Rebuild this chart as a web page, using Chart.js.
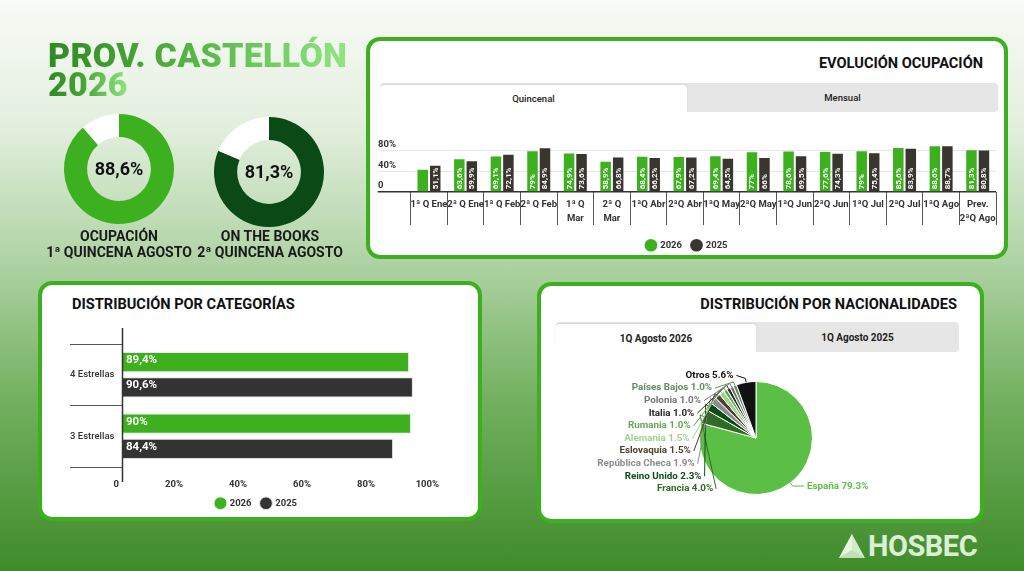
<!DOCTYPE html>
<html>
<head>
<meta charset="utf-8">
<script src="https://cdn.jsdelivr.net/npm/chart.js@4.4.1/dist/chart.umd.min.js"></script>
<style>
html,body{margin:0;padding:0;width:1024px;height:571px;overflow:hidden;}
body{position:relative;font-family:Roboto,"Open Sans",sans-serif;
 background:linear-gradient(to bottom,#f8fbf7 0%,#e3efde 22%,#b1d4a6 45%,#72b05f 70%,#3f8b2a 100%);}
.card{position:absolute;background:#fff;border:4px solid #3cb01f;border-radius:14px;box-sizing:border-box;}
.title{position:absolute;left:48px;top:41px;font-size:34px;line-height:28.5px;font-weight:900;letter-spacing:0.25px;}
.title span{display:inline-block;padding-top:8px;margin-top:-8px;background-clip:text;-webkit-background-clip:text;color:transparent;-webkit-text-fill-color:transparent;}
.l1{background:linear-gradient(to right,#2f8a22 0%,#4aa83a 35%,#6cc95b 70%,#92e582 100%);}
.l2{background:linear-gradient(to right,#2f8a22 0%,#47a637 45%,#92e582 100%);}
.dlabel{position:absolute;width:170px;text-align:center;font-size:14px;font-weight:700;line-height:16px;color:#1a1a1a;}
.ctitle{position:absolute;font-size:14.6px;font-weight:700;color:#111;line-height:16px;white-space:nowrap;}
.tabs{position:absolute;background:#e6e6e6;border-radius:4px;}
.tab{position:absolute;top:0;height:100%;display:flex;align-items:center;justify-content:center;font-size:9.5px;font-weight:500;color:#222;}
.tab.active{background:#fff;border-radius:4px 4px 0 0;top:2px;height:calc(100% - 2px);box-shadow:0 -1px 2px rgba(0,0,0,0.08);}
canvas{position:absolute;}
.logo{position:absolute;left:838px;top:528px;height:36px;display:flex;align-items:center;}
.logo span{font-size:29px;font-weight:700;color:#dcefd6;letter-spacing:-0.5px;margin-left:2px;}
</style>
</head>
<body>
<div class="title"><span class="l1">PROV. CASTELLÓN</span><br><span class="l2">2026</span></div>

<canvas id="donut1" width="120" height="120" style="left:59px;top:109px;"></canvas>
<canvas id="donut2" width="120" height="120" style="left:209px;top:112px;"></canvas>
<div class="dlabel" style="left:34px;top:228px;">OCUPACIÓN<br>1ª QUINCENA AGOSTO</div>
<div class="dlabel" style="left:185px;top:228px;">ON THE BOOKS<br>2ª QUINCENA AGOSTO</div>

<div class="card" style="left:366px;top:37px;width:642px;height:222px;"></div>
<div class="ctitle" style="right:41px;top:55px;">EVOLUCIÓN OCUPACIÓN</div>
<div class="tabs" style="left:380px;top:83px;width:618px;height:29px;">
  <div class="tab active" style="left:0;width:307px;">Quincenal</div>
  <div class="tab" style="left:307px;width:311px;">Mensual</div>
</div>
<canvas id="evo" width="634" height="136" style="left:370px;top:124px;"></canvas>

<div class="card" style="left:38px;top:281px;width:444px;height:240px;"></div>
<div class="ctitle" style="left:72px;top:296px;">DISTRIBUCIÓN POR CATEGORÍAS</div>
<canvas id="cat" width="436" height="198" style="left:42px;top:320px;"></canvas>

<div class="card" style="left:537px;top:282px;width:447px;height:241px;"></div>
<div class="ctitle" style="right:67px;top:296px;">DISTRIBUCIÓN POR NACIONALIDADES</div>
<div class="tabs" style="left:556px;top:322px;width:403px;height:30px;">
  <div class="tab active" style="left:0;width:200px;font-size:10px;font-weight:700;">1Q Agosto 2026</div>
  <div class="tab" style="left:200px;width:203px;font-size:10px;font-weight:700;">1Q Agosto 2025</div>
</div>
<canvas id="nat" width="439" height="164" style="left:541px;top:356px;"></canvas>

<div class="logo">
  <svg width="28" height="26" viewBox="0 0 28 26">
    <polygon points="14,1 27,25 1,25" fill="#d3eacb"/>
    <polygon points="14,1 14,17 1,25" fill="#e8f5e4"/>
    <polygon points="14,17 27,25 1,25" fill="#bfdfb5"/>
  </svg>
  <span>HOSBEC</span>
</div>

<script>
// ---------- DATA ----------
const occupancyAug1 = [88.6];
const booksAug2 = [81.3];

const seriesNames = ['2026', '2025'];
const quincenaLabels = [['1ª Q Ene'], ['2ª Q Ene'], ['1ª Q Feb'], ['2ª Q Feb'], ['1ª Q', 'Mar'], ['2ª Q', 'Mar'],
  ['1ªQ Abr'], ['2ªQ Abr'], ['1ªQ May'], ['2ªQ May'], ['1ªQ Jun'], ['2ªQ Jun'], ['1ªQ Jul'], ['2ªQ Jul'],
  ['1ªQ Ago'], ['Prev.', '2ªQ Ago']];
const occ2026 = [43.4, 63.6, 69.1, 79, 74.9, 58.9, 68.4, 67.9, 69.4, 77, 78.6, 77.6, 79, 85.6, 88.6, 81.3];
const occ2025 = [51.1, 59.9, 72.1, 84.9, 73.6, 66.8, 66.2, 67.2, 64.5, 66, 69.5, 74.3, 75.4, 83.9, 88.7, 80.8];
const evoTicks = [0, 40, 80];

const catLabels = ['4 Estrellas', '3 Estrellas'];
const cat2026 = [89.4, 90];
const cat2025 = [90.6, 84.4];
const catTicks = [0, 20, 40, 60, 80, 100];

const natNames = ['España', 'Francia', 'Reino Unido', 'República Checa', 'Eslovaquia', 'Alemania', 'Rumania', 'Italia', 'Polonia', 'Países Bajos', 'Otros'];
const natValues = [79.3, 4.0, 2.3, 1.9, 1.5, 1.5, 1.0, 1.0, 1.0, 1.0, 5.6];

// ---------- STYLE ----------
const GREEN = '#3cb01e';
const DARK = '#39352f';
const DARK2 = '#333333';
const natColors = ['#5cbf45', '#2f6b26', '#0c4d14', '#8c8c8c', '#4f3f2c', '#9fd68f', '#66a756', '#2a2a2a', '#767676', '#5f8f5f', '#111111'];

Chart.defaults.font.family = 'Roboto';
Chart.defaults.color = '#333';
Chart.defaults.animation = false;

const fmt = v => String(v).replace('.', ',') + '%';

// ---------- DONUTS ----------
function donut(id, value, color) {
  const centerText = {
    id: 'centerText',
    afterDatasetsDraw(chart) {
      const arc = chart.getDatasetMeta(0).data[0];
      const ctx = chart.ctx;
      ctx.save();
      ctx.font = 'bold 18px Roboto';
      ctx.fillStyle = '#111';
      ctx.textAlign = 'center';
      ctx.textBaseline = 'middle';
      ctx.fillText(fmt(value[0]), arc.x, arc.y + 1);
      ctx.restore();
    }
  };
  new Chart(document.getElementById(id), {
    type: 'doughnut',
    data: { datasets: [{ data: [value[0], 100 - value[0]], backgroundColor: [color, '#ffffff'], borderWidth: 0 }] },
    options: {
      responsive: false, cutout: '58%',
      layout: { padding: 5 },
      plugins: { legend: { display: false }, tooltip: { enabled: false } }
    },
    plugins: [centerText]
  });
}
donut('donut1', occupancyAug1, '#3cb01e');
donut('donut2', booksAug2, '#0b4a17');

// ---------- EVOLUCION ----------
const evoLabels = {
  id: 'evoLabels',
  afterDatasetsDraw(chart) {
    const ctx = chart.ctx;
    ctx.save();
    ctx.font = 'bold 8px Roboto';
    ctx.fillStyle = '#ffffff';
    ctx.textAlign = 'left';
    ctx.textBaseline = 'middle';
    chart.data.datasets.forEach((ds, di) => {
      chart.getDatasetMeta(di).data.forEach((bar, i) => {
        const txt = fmt(ds.data[i]);
        const w = ctx.measureText(txt).width;
        if (w + 1 > bar.base - bar.y) return;
        ctx.save();
        ctx.translate(bar.x, bar.base - 2);
        ctx.rotate(-Math.PI / 2);
        ctx.fillText(txt, 0, 0.5);
        ctx.restore();
      });
    });
    ctx.restore();
  }
};

new Chart(document.getElementById('evo'), {
  type: 'bar',
  data: {
    labels: quincenaLabels,
    datasets: [
      { label: seriesNames[0], data: occ2026, backgroundColor: GREEN, categoryPercentage: 0.683, barPercentage: 0.84 },
      { label: seriesNames[1], data: occ2025, backgroundColor: DARK, categoryPercentage: 0.683, barPercentage: 0.84 }
    ]
  },
  options: {
    responsive: false,
    layout: { padding: { left: 8, right: 8, top: 16.5, bottom: 0 } },
    scales: {
      x: {
        afterFit: s => { s.height = 38.5; },
        border: { display: false },
        grid: { drawOnChartArea: false, drawTicks: true, tickLength: 33, color: '#555', lineWidth: 1 },
        ticks: { autoSkip: false, maxRotation: 0, minRotation: 0, padding: -27,
          font: { size: 9.5, weight: 'bold', lineHeight: 1.45 }, color: '#333' }
      },
      y: {
        min: 0, max: 100,
        afterBuildTicks: s => { s.ticks = evoTicks.map(v => ({ value: v })); },
        afterFit: s => { s.width = 32.7; },
        border: { display: false },
        grid: {
          color: c => (c.tick && c.tick.value === 0) ? '#333' : '#e6e6e6',
          lineWidth: c => (c.tick && c.tick.value === 0) ? 1.5 : 1,
          tickLength: 33
        },
        ticks: { crossAlign: 'far', labelOffset: -6, padding: 0,
          callback: v => v === 0 ? '0' : v + '%',
          font: { size: 9.5, weight: 'bold' }, color: '#333' }
      }
    },
    plugins: {
      legend: { position: 'bottom',
        labels: { usePointStyle: true, pointStyle: 'circle', boxWidth: 9, boxHeight: 9, padding: 10,
          font: { size: 9.5, weight: 'bold' }, color: '#333' } },
      tooltip: { enabled: false }
    }
  },
  plugins: [evoLabels]
});

// ---------- CATEGORIAS ----------
const catExtras = {
  id: 'catExtras',
  afterDatasetsDraw(chart) {
    const ctx = chart.ctx;
    const a = chart.chartArea;
    ctx.save();
    ctx.strokeStyle = '#333';
    ctx.lineWidth = 1.5;
    ctx.beginPath();
    ctx.moveTo(a.left - 0.5, a.top - 16);
    ctx.lineTo(a.left - 0.5, a.bottom + 15);
    ctx.stroke();
    ctx.font = 'bold 11.5px Roboto';
    ctx.fillStyle = '#ffffff';
    ctx.textAlign = 'left';
    ctx.textBaseline = 'middle';
    chart.data.datasets.forEach((ds, di) => {
      chart.getDatasetMeta(di).data.forEach((bar, i) => {
        ctx.fillText(fmt(ds.data[i]), bar.base + 3, bar.y - 2);
      });
    });
    ctx.restore();
  }
};

new Chart(document.getElementById('cat'), {
  type: 'bar',
  data: {
    labels: catLabels,
    datasets: [
      { label: seriesNames[0], data: cat2026, backgroundColor: GREEN, borderColor: '#e8e8e8', borderWidth: 1, borderSkipped: 'left', categoryPercentage: 0.82, barPercentage: 0.8 },
      { label: seriesNames[1], data: cat2025, backgroundColor: DARK2, borderColor: '#e0e0e0', borderWidth: 1, borderSkipped: 'left', categoryPercentage: 0.82, barPercentage: 0.8 }
    ]
  },
  options: {
    responsive: false,
    indexAxis: 'y',
    layout: { padding: { left: 28, right: 35, top: 24, bottom: 0 } },
    scales: {
      x: {
        min: 0, max: 100,
        afterBuildTicks: s => { s.ticks = catTicks.map(v => ({ value: v })); },
        afterFit: s => { s.height = 21.5; },
        border: { display: false },
        grid: { display: false },
        ticks: { align: 'end', labelOffset: -4, padding: 4,
          callback: v => v === 0 ? '0' : v + '%',
          font: { size: 9.5, weight: 'bold' }, color: '#333' }
      },
      y: {
        afterFit: s => { s.width = 53; },
        border: { display: false },
        grid: { drawOnChartArea: false, tickLength: 53, color: '#555', lineWidth: 1 },
        ticks: { crossAlign: 'far', padding: 0, font: { size: 9.5, weight: '500' }, color: '#333' }
      }
    },
    plugins: {
      legend: { position: 'bottom',
        labels: { usePointStyle: true, pointStyle: 'circle', boxWidth: 9, boxHeight: 9, padding: 10,
          font: { size: 9.5, weight: 'bold' }, color: '#333' } },
      tooltip: { enabled: false }
    }
  },
  plugins: [catExtras]
});

// ---------- NACIONALIDADES ----------
const pieLabels = {
  id: 'pieLabels',
  afterDatasetsDraw(chart) {
    const ctx = chart.ctx;
    const arcs = chart.getDatasetMeta(0).data;
    const cx = arcs[0].x, cy = arcs[0].y, r = arcs[0].outerRadius;
    const R = r + 10;
    const spacing = 12.6;
    ctx.save();
    ctx.font = 'bold 9.8px Roboto';
    ctx.textBaseline = 'middle';
    ctx.lineWidth = 1;
    arcs.forEach((arc, i) => {
      const mid = (arc.startAngle + arc.endAngle) / 2;
      const ex = cx + r * Math.cos(mid), ey = cy + r * Math.sin(mid);
      const ox = cx + (r + 4) * Math.cos(mid), oy = cy + (r + 4) * Math.sin(mid);
      let lx, ly, tx;
      const color = natColors[i];
      const txt = natNames[i] + ' ' + natValues[i].toFixed(1) + '%';
      if (i === 0) {
        ly = oy;
        const dy = ly - cy;
        lx = cx + Math.sqrt(Math.max(R * R - dy * dy, 0)) + 2;
        tx = lx + 3;
        ctx.textAlign = 'left';
      } else {
        ly = cy + r * 0.9 - (i - 1) * spacing;
        const dy = ly - cy;
        lx = cx - Math.sqrt(Math.max(R * R - dy * dy, 0)) + 3;
        tx = lx - 3;
        ctx.textAlign = 'right';
      }
      ctx.strokeStyle = color;
      ctx.beginPath();
      ctx.moveTo(ex, ey);
      ctx.lineTo(ox, oy);
      ctx.lineTo(lx, ly);
      ctx.stroke();
      ctx.fillStyle = color;
      ctx.fillText(txt, tx, ly);
    });
    ctx.restore();
  }
};

new Chart(document.getElementById('nat'), {
  type: 'pie',
  data: { labels: natNames, datasets: [{ data: natValues, backgroundColor: natColors, borderColor: '#ffffff', borderWidth: 1 }] },
  options: {
    responsive: false,
    layout: { padding: { left: 158, right: 167, top: 25, bottom: 25 } },
    plugins: { legend: { display: false }, tooltip: { enabled: false } }
  },
  plugins: [pieLabels]
});
</script>
</body>
</html>
